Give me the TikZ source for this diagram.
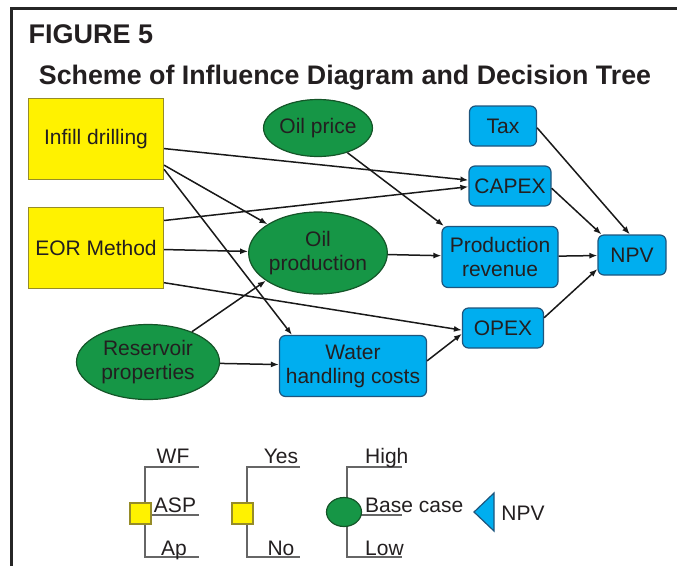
\documentclass[tikz,border=0pt]{standalone}
\usepackage{fontspec}
\setmainfont{Liberation Sans}
\usetikzlibrary{arrows.meta,shapes,positioning}
\definecolor{decyellow}{RGB}{255,242,0}
\definecolor{decedge}{RGB}{150,140,40}
\definecolor{chgreen}{RGB}{22,150,70}
\definecolor{chedge}{RGB}{20,85,40}
\definecolor{valblue}{RGB}{0,174,239}
\definecolor{valedge}{RGB}{30,85,125}
\definecolor{txtgray}{RGB}{35,31,32}
\tikzset{
    lbl/.style={font=\fontsize{21}{24}\selectfont, text=txtgray, align=center},
    decision/.style={lbl, draw=decedge, fill=decyellow, line width=1.2pt, minimum width=135pt, minimum height=81pt, inner sep=0pt},
    chance/.style={lbl, ellipse, draw=chedge, fill=chgreen, line width=1.2pt, inner sep=0pt},
    value/.style={lbl, draw=valedge, fill=valblue, rounded corners=6pt, line width=1.2pt, inner sep=0pt},
    infl/.style={-{Latex[length=8pt, width=6pt]}, line width=1.5pt, black!90},
    branch/.style={line width=1.3pt, gray!80!black},
    legtext/.style={lbl, inner sep=0pt, anchor=base}
}

\begin{document}
\begin{tikzpicture}[x=1pt, y=-1pt]
\useasboundingbox (0,0) rectangle (677,566);
% frame and titles
\draw[line width=3pt, black!85] (11,566) -- (11,8) -- (677,8);
\node[anchor=base west, font=\fontsize{27}{30}\selectfont\bfseries, text=txtgray] (fig) at (25,43) {FIGURE 5};
\node[anchor=base, font=\fontsize{26.8}{30}\selectfont\bfseries, text=txtgray] (ttl) at (345,84) {Scheme of Influence Diagram and Decision Tree};

% influence diagram
\node[decision] (ID) at (96,139) {Infill drilling};
\node[decision] (EOR) at (96,248) {EOR Method};
\node[chance, minimum width=94pt, minimum height=57pt] (OP) at (318,128) {Oil price};
\node[chance, minimum width=130pt, minimum height=82pt] (PROD) at (318,253) {Oil\\production};
\node[chance, minimum width=143pt, minimum height=75pt] (RES) at (148,362) {Reservoir\\properties};
\node[value, minimum width=67pt, minimum height=40pt] (TAX) at (503,126) {Tax};
\node[value, minimum width=82pt, minimum height=40pt] (CAPEX) at (510,186) {CAPEX};
\node[value, minimum width=116pt, minimum height=61pt] (REV) at (500,257) {Production\\revenue};
\node[value, minimum width=68pt, minimum height=40pt] (NPV) at (632,255) {NPV};
\node[value, minimum width=81pt, minimum height=40pt] (OPEX) at (503,328) {OPEX};
\node[value, minimum width=147pt, minimum height=61pt] (WHC) at (353,366) {Water\\handling costs};

\draw[infl] (ID.-8) -- (CAPEX.172);
\draw[infl] (ID.-21) -- (PROD);
\draw[infl] (ID.-24) -- (WHC.153);
\draw[infl] (EOR.22) -- (CAPEX.181);
\draw[infl] (EOR) -- (PROD);
\draw[infl] (EOR.-27) -- (OPEX.183);
\draw[infl] (OP.-40) -- (REV.151);
\draw[infl] (PROD) -- (REV);
\draw[infl] (RES) -- (PROD.208);
\draw[infl] (RES) -- (WHC);
\draw[infl] (WHC.4) -- (OPEX.188);
\draw[infl] (TAX.-3) -- (NPV.96);
\draw[infl] (CAPEX.-3) -- (NPV.146);
\draw[infl] (REV) -- (NPV);
\draw[infl] (OPEX.14) -- (NPV.202);

% decision tree legend
\draw[branch] (199,467) -- (145,467) -- (145,557) -- (199,557) (145,515) -- (199,515);
\draw[branch] (300,467) -- (247,467) -- (247,557) -- (300,557);
\draw[branch] (402,467) -- (347,467) -- (347,557) -- (402,557) (347,515) -- (402,515);
\node[decision, minimum width=21pt, minimum height=21pt] (D1) at (140.5,513.5) {};
\node[decision, minimum width=21pt, minimum height=21pt] (D2) at (242.5,513.5) {};
\node[chance, minimum width=35pt, minimum height=29pt] (C1) at (344,512) {};
\filldraw[draw=valedge, fill=valblue, line width=1.2pt] (474,512) -- (494,493) -- (494,531) -- cycle;

\node[legtext] (wf) at (173,463) {WF};
\node[legtext] (asp) at (175,512) {ASP};
\node[legtext] (ap) at (174,555) {Ap};
\node[legtext] (yes) at (281,463) {Yes};
\node[legtext] (no) at (281,555) {No};
\node[legtext, anchor=base west] (high) at (365,463) {High};
\node[legtext, anchor=base west] (base) at (365,512) {Base case};
\node[legtext, anchor=base west] (low) at (365,555) {Low};
\node[lbl, inner sep=0pt] (npvkey) at (523,513) {NPV};
\end{tikzpicture}
\end{document}
